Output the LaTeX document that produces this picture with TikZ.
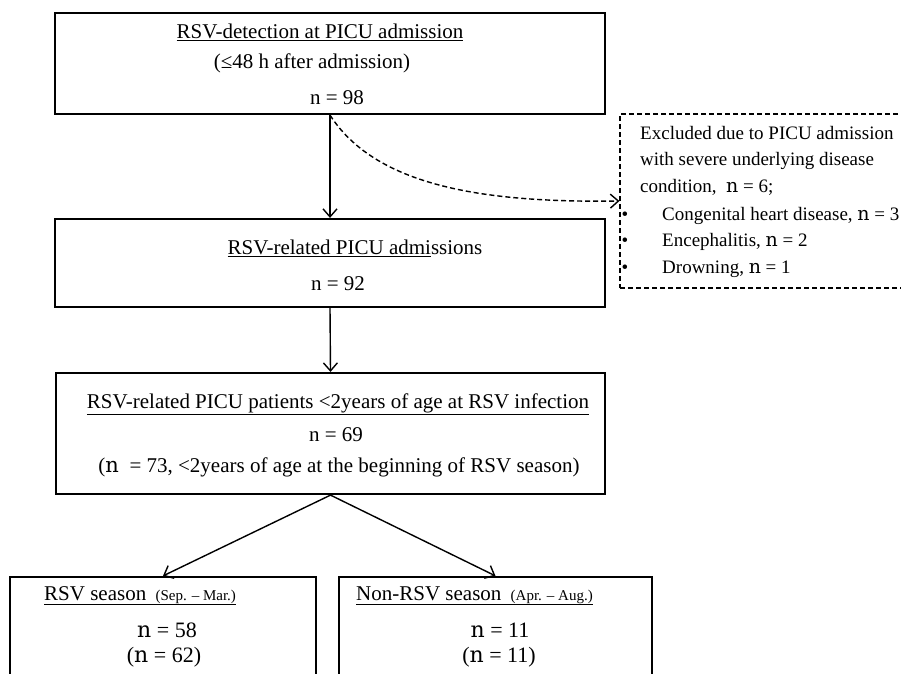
\documentclass[tikz,border=0pt]{standalone}
\usepackage{fontspec}
\setmainfont{Liberation Serif}
\newfontfamily\nfont{DejaVu Serif}
\usetikzlibrary{arrows.meta}
\newcommand{\nn}{{\nfont n}}
\begin{document}
\begin{tikzpicture}[x=1pt,y=-1pt,
  box/.style={draw, line width=2.2pt, inner sep=0pt},
  dbox/.style={draw, line width=1.2pt, dash pattern=on 5pt off 3pt, inner sep=0pt},
  txt/.style={anchor=base, inner sep=0pt, font=\fontsize{21}{24}\selectfont},
  ntxt/.style={anchor=base, inner sep=0pt, font=\fontsize{22}{25}\selectfont},
  ltxt/.style={txt, anchor=base west},
  etxt/.style={anchor=base west, inner sep=0pt, font=\fontsize{19}{22}\selectfont},
  arr/.style={line width=1.4pt, -{Straight Barb[length=8pt,width=14pt,line width=1.4pt]}},
  darr/.style={line width=1.4pt, dash pattern=on 5pt off 3pt, -{Straight Barb[length=8pt,width=14pt,line width=1.4pt]}}]
\useasboundingbox (0,0) rectangle (901,673);
\clip (0,0) rectangle (901,673);
% boxes
\node[box, minimum width=550pt, minimum height=101pt] (b1) at (330,63.5) {};
\node[box, minimum width=550pt, minimum height=88pt] (b2) at (330,263) {};
\node[box, minimum width=549pt, minimum height=121pt] (b3) at (330.5,433.5) {};
\node[box, minimum width=306pt, minimum height=120pt] (b4) at (163,637) {};
\node[box, minimum width=313pt, minimum height=120pt] (b5) at (495.5,637) {};
\node[dbox, minimum width=340pt, minimum height=174pt] (ex) at (790,201) {};
% box 1 text
\node[txt] (t1a) at (320,38) {\underline{RSV-detection at PICU admission}};
\node[txt] (t1b) at (312,68) {(≤48 h after admission)};
\node[txt] (t1c) at (337,104) {n = 98};
% box 2 text
\node[txt] (t2a) at (355,254) {\underline{RSV-related PICU admi}ssions};
\node[txt] (t2b) at (338,290) {n = 92};
% box 3 text
\node[txt] (t3a) at (338,408) {\underline{RSV-related PICU patients <2years of age at RSV infection}};
\node[txt] (t3b) at (336,441) {n = 69};
\node[txt] (t3c) at (339,472) {(\nn\ \ = 73, <2years of age at the beginning of RSV season)};
% bottom left
\node[ltxt] (t4a) at (44,600) {\underline{RSV season\hspace{4pt} {\fontsize{15}{17}\selectfont(Sep. – Mar.)}}};
\node[ntxt] (t4b) at (167,637) {\nn\ = 58};
\node[ntxt] (t4c) at (164,662) {(\nn\ = 62)};
% bottom right
\node[ltxt] (t5a) at (356,600) {\underline{Non-RSV season\hspace{4pt} {\fontsize{15}{17}\selectfont(Apr. – Aug.)}}};
\node[ntxt] (t5b) at (500,637) {\nn\ = 11};
\node[ntxt] (t5c) at (499,662) {(\nn\ = 11)};
% excluded text
\node[etxt] (e1) at (640,139) {Excluded due to PICU admission};
\node[etxt] (e2) at (640,165) {with severe underlying disease};
\node[etxt] (e3) at (640,192) {condition,\ \ \nn\ = 6;};
\node[etxt, anchor=base] (bu1) at (625,220) {•};
\node[etxt, anchor=base] (bu2) at (625,246) {•};
\node[etxt, anchor=base] (bu3) at (625,273) {•};
\node[etxt] (e4) at (662,220) {Congenital heart disease, \nn\ = 3};
\node[etxt] (e5) at (662,246) {Encephalitis, \nn\ = 2};
\node[etxt] (e6) at (662,273) {Drowning, \nn\ = 1};
% connectors
\draw[arr] (b1.south) -- (b2.north);
\draw[arr] (b2.south) -- (b3.north);
\draw[arr] (b3.south) -- (b4.north);
\draw[arr] (b3.south) -- (b5.north);
\draw[darr] (b1.south) .. controls (375,185) and (480,203) .. (ex.west);
\end{tikzpicture}
\end{document}
